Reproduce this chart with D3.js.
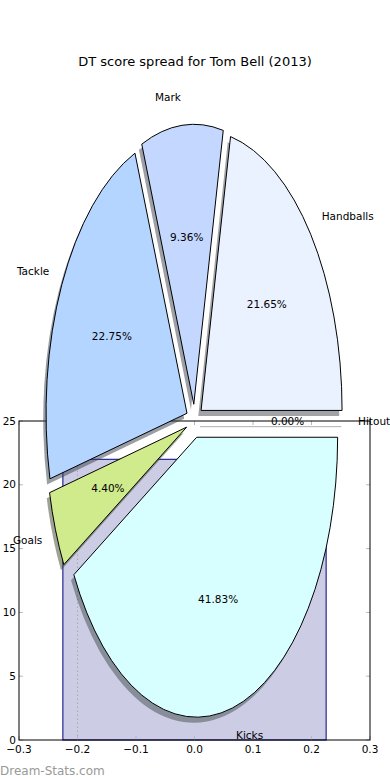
<!DOCTYPE html>
<html>
<head>
<meta charset="utf-8">
<script src="https://cdn.jsdelivr.net/npm/d3@7"></script>
<style>
  body { margin: 0; background: #fff; }
  svg { display: block; font-family: "DejaVu Sans", sans-serif; }
</style>
</head>
<body>
<svg id="drawing_region"></svg>
<script>
// pie data (matplotlib order, counter-clockwise from 3 o'clock)
const labels = ['Handballs', 'Mark', 'Tackle', 'Goals', 'Kicks', 'Hitout'];
const shares = [21.65, 9.36, 22.75, 4.40, 41.83, 0.00];
const colors = ['#eaf1ff', '#c4d8ff', '#b4d5ff', '#d0eb8b', '#d8ffff', '#ffffff'];

// background bar chart
const barX = [0];
const barH = [22];
const barW = 0.45;
const markX = -0.2;
const xTicks = [-0.3, -0.2, -0.1, 0.0, 0.1, 0.2, 0.3];
const yTicks = [0, 5, 10, 15, 20, 25];

const W = 390, H = 780;
const svg = d3.select('#drawing_region').attr('width', W).attr('height', H);

// ---- bar axes ----
const x = d3.scaleLinear().domain([-0.3, 0.3]).range([19, 370]);
const y = d3.scaleLinear().domain([0, 25]).range([740, 421]);

const axes = svg.append('g');
axes.selectAll('rect.bar')
  .data(barX)
  .join('rect')
  .attr('x', d => x(d - barW / 2))
  .attr('y', (d, i) => y(barH[i]))
  .attr('width', d => x(d + barW / 2) - x(d - barW / 2))
  .attr('height', (d, i) => y(0) - y(barH[i]))
  .attr('fill', '#cccce4')
  .attr('stroke', '#000080')
  .attr('stroke-width', 1);

axes.append('line')
  .attr('x1', x(markX)).attr('x2', x(markX))
  .attr('y1', y(0)).attr('y2', y(barH[0]))
  .attr('stroke', '#aaaaaa')
  .attr('stroke-dasharray', '1.5,2.5');

// inward ticks (light)
const tk = axes.append('g').attr('stroke', '#b8b8b8');
xTicks.forEach(t => {
  tk.append('line').attr('x1', x(t)).attr('x2', x(t)).attr('y1', y(0)).attr('y2', y(0) - 4);
  tk.append('line').attr('x1', x(t)).attr('x2', x(t)).attr('y1', y(25)).attr('y2', y(25) + 4);
});
yTicks.forEach(t => {
  tk.append('line').attr('x1', x(-0.3)).attr('x2', x(-0.3) + 4).attr('y1', y(t)).attr('y2', y(t));
  tk.append('line').attr('x1', x(0.3)).attr('x2', x(0.3) - 4).attr('y1', y(t)).attr('y2', y(t));
});

axes.append('rect')
  .attr('x', x(-0.3)).attr('y', y(25))
  .attr('width', x(0.3) - x(-0.3)).attr('height', y(0) - y(25))
  .attr('fill', 'none').attr('stroke', '#000').attr('stroke-width', 1);

axes.selectAll('text.xt')
  .data(xTicks)
  .join('text')
  .attr('x', d => x(d)).attr('y', y(0) + 13)
  .attr('text-anchor', 'middle')
  .attr('font-size', 10.5)
  .text(d => d3.format('.1f')(d).replace('-', '\u2212'));

axes.selectAll('text.yt')
  .data(yTicks)
  .join('text')
  .attr('x', x(-0.3) - 3).attr('y', d => y(d))
  .attr('dy', '0.35em')
  .attr('text-anchor', 'end')
  .attr('font-size', 10.5)
  .text(d => d);

// ---- pie axes ----
const cx = 194.5, cy = 421, rx = 141, ry = 280, explode = 0.06;
const px = d3.scaleLinear().domain([0, 1]).range([cx, cx + rx]);
const py = d3.scaleLinear().domain([0, 1]).range([cy, cy - ry]);

const pie = d3.pie().sort(null).startAngle(Math.PI / 2).endAngle(Math.PI / 2 - 2 * Math.PI);
const arcs = pie(shares);
const arc = d3.arc().innerRadius(0).outerRadius(1);

arcs.forEach(a => {
  // matplotlib angle for the wedge middle
  a.theta = Math.PI / 2 - (a.startAngle + a.endAngle) / 2;
  a.ox = explode * Math.cos(a.theta);
  a.oy = explode * Math.sin(a.theta);
});

const pieG = svg.append('g');
const place = (a, dx, dy) =>
  `translate(${px(a.ox) + dx},${py(a.oy) + dy}) scale(${px(1) - px(0)},${py(0) - py(1)})`;

// shadows first
pieG.selectAll('path.shadow')
  .data(arcs)
  .join('path')
  .attr('transform', a => place(a, -0.02 * rx, 0.02 * ry))
  .attr('d', arc)
  .attr('fill', (a, i) => { const c = d3.rgb(colors[i]); return d3.rgb(c.r * 0.3, c.g * 0.3, c.b * 0.3); })
  .attr('fill-opacity', 0.5)
  .attr('stroke', (a, i) => shares[i] === 0 ? '#bbbbbb' : 'none')
  .attr('vector-effect', 'non-scaling-stroke');

pieG.selectAll('path.wedge')
  .data(arcs)
  .join('path')
  .attr('transform', a => place(a, 0, 0))
  .attr('d', arc)
  .attr('fill', (a, i) => colors[i])
  .attr('stroke', (a, i) => shares[i] === 0 ? 'none' : '#000')
  .attr('stroke-width', 1)
  .attr('vector-effect', 'non-scaling-stroke');

pieG.selectAll('text.lab')
  .data(arcs)
  .join('text')
  .attr('x', a => px((1.1 + explode) * Math.cos(a.theta)))
  .attr('y', a => py((1.1 + explode) * Math.sin(a.theta)))
  .attr('dy', '0.35em')
  .attr('text-anchor', a => Math.cos(a.theta) > 0 ? 'start' : 'end')
  .attr('font-size', 10.5)
  .text((a, i) => labels[i]);

pieG.selectAll('text.pct')
  .data(arcs)
  .join('text')
  .attr('x', a => px((0.6 + explode) * Math.cos(a.theta)))
  .attr('y', a => py((0.6 + explode) * Math.sin(a.theta)))
  .attr('dy', '0.35em')
  .attr('text-anchor', 'middle')
  .attr('font-size', 10.5)
  .text((a, i) => shares[i].toFixed(2) + '%');

svg.append('text')
  .attr('x', 195).attr('y', 61)
  .attr('dy', '0.35em')
  .attr('text-anchor', 'middle')
  .attr('font-size', 13)
  .text('DT score spread for Tom Bell (2013)');

svg.append('text')
  .attr('x', 0).attr('y', 775)
  .attr('font-size', 12)
  .attr('fill', '#999999')
  .text('Dream-Stats.com');
</script>
</body>
</html>
